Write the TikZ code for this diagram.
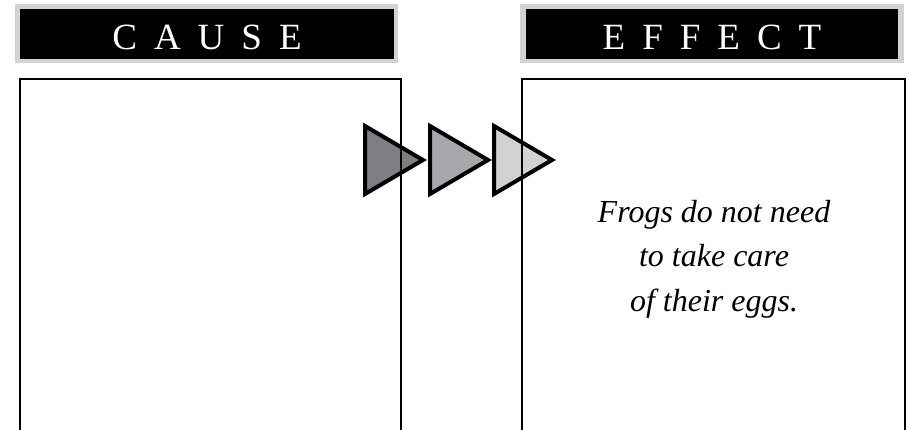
\documentclass[tikz,border=0pt]{standalone}
\usepackage{fontspec}
\setmainfont{Liberation Serif}
\definecolor{hdrgray}{RGB}{209,210,212}
\definecolor{trione}{RGB}{126,127,131}
\definecolor{tritwo}{RGB}{167,168,171}
\definecolor{trithree}{RGB}{209,210,212}
\newcommand{\lsp}{\hskip 17pt}
\begin{document}
\begin{tikzpicture}[x=1pt,y=-1pt,
  hdrouter/.style={fill=hdrgray, draw=none},
  hdrinner/.style={fill=black, draw=none},
  hdrtext/.style={text=white, font=\fontsize{37}{40}\selectfont, inner sep=0pt, anchor=base},
  panel/.style={draw=black, line width=2pt, fill=none},
  tri/.style={draw=black, line width=4pt, line join=miter},
  body/.style={font=\fontsize{32}{44}\selectfont\itshape, inner sep=0pt, anchor=base}]
\useasboundingbox (0,0) rectangle (907,430);
\clip (0,0) rectangle (907,430);
\fill[white] (0,0) rectangle (907,430);
% headers
\fill[hdrouter] (15,4) rectangle (398,63);
\fill[hdrinner] (20,9) rectangle (394,59);
\node[hdrtext] (cause) at (207,50) {C\lsp A\lsp U\lsp S\lsp E};
\fill[hdrouter] (520,4) rectangle (904,63);
\fill[hdrinner] (526,9) rectangle (898,59);
\node[hdrtext] (effect) at (712,50) {E\lsp F\lsp F\lsp E\lsp C\lsp T};
% arrows
\filldraw[tri, fill=trione] (365,126) -- (365,194) -- (423,160) -- cycle;
\filldraw[tri, fill=tritwo] (430,126) -- (430,194) -- (488,160) -- cycle;
\filldraw[tri, fill=trithree] (494,126) -- (494,194) -- (552,160) -- cycle;
% panels
\draw[panel] (20,450) -- (20,79) -- (401,79) -- (401,450);
\draw[panel] (522,450) -- (522,79) -- (905,79) -- (905,450);
\node[body] (lineone) at (714,223) {Frogs do not need};
\node[body] (linetwo) at (714,267) {to take care};
\node[body] (linethree) at (714,311) {of their eggs.};
\end{tikzpicture}
\end{document}
